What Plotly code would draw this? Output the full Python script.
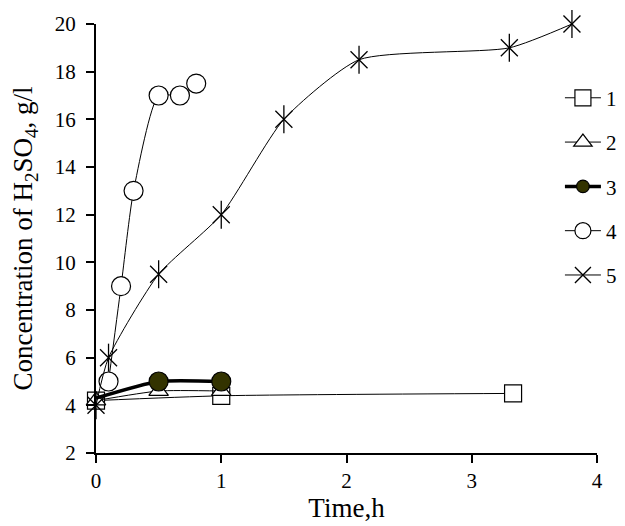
import plotly.graph_objects as go

# Data
s1_x = [0, 1, 3.33]
s1_y = [4.2, 4.4, 4.5]
s2_x = [0, 0.5, 1]
s2_y = [4.2, 4.6, 4.6]
s3_x = [0, 0.5, 1]
s3_y = [4.3, 5.0, 5.0]
s4_x = [0.1, 0.2, 0.3, 0.5, 0.67, 0.8]
s4_y = [5.0, 9.0, 13.0, 17.0, 17.0, 17.5]
s5_x = [0, 0.1, 0.5, 1.0, 1.5, 2.1, 3.3, 3.8]
s5_y = [4.0, 6.0, 9.5, 12.0, 16.0, 18.5, 19.0, 20.0]
names = ["1", "2", "3", "4", "5"]
x_ticks = [0, 1, 2, 3, 4]
y_ticks = [2, 4, 6, 8, 10, 12, 14, 16, 18, 20]

FONT = "Liberation Serif, Times New Roman, serif"
fig = go.Figure()

def add(x, y, name, symbol, size, lw, fill="white", mlw=1.2, legend=True):
    fig.add_trace(go.Scatter(
        x=x, y=y, name=name, mode="lines+markers",
        line=dict(color="black", width=lw, shape="spline", smoothing=0.6),
        marker=dict(symbol=symbol, size=size, color=fill, opacity=1,
                    line=dict(color="black", width=mlw)),
        legendgroup=name, showlegend=legend, cliponaxis=False))

add(s1_x, s1_y, names[0], "square", 17, 1)
add(s2_x, s2_y, names[1], "triangle-up", 17, 1)
# first point of series 3 is hidden under the other markers in the reference
add(s3_x, s3_y, names[2], "circle", [0] + [19] * (len(s3_x) - 1), 3.5, fill="#333300")
add(s4_x, s4_y, names[3], "circle", 19, 1)
add(s5_x, s5_y, names[4], "x-thin-open", 17, 1, fill="black", mlw=1.3)
# vertical stroke of the asterisk marker
fig.add_trace(go.Scatter(x=s5_x, y=s5_y, mode="markers", showlegend=False,
                         marker=dict(symbol="line-ns-open", size=20, color="black",
                                     line=dict(color="black", width=1.3)),
                         cliponaxis=False, hoverinfo="skip"))

fig.update_layout(
    width=625, height=526,
    margin=dict(l=88, r=36, t=16, b=81, autoexpand=False),
    paper_bgcolor="white", plot_bgcolor="white",
    font=dict(family=FONT, size=21, color="black"),
    showlegend=True,
    legend=dict(x=0.926, y=0.875, xanchor="left", yanchor="top",
                bgcolor="rgba(0,0,0,0)", tracegroupgap=14,
                font=dict(family=FONT, size=21), itemwidth=36,
                itemsizing="trace"),
    xaxis=dict(range=[0, 4], tickvals=x_ticks, showgrid=False, zeroline=False,
               showline=True, linecolor="black", linewidth=2, automargin=False,
               ticks="outside", ticklen=8, tickwidth=2, tickcolor="black",
               tickfont=dict(size=21),
               title=dict(text="Time,h", font=dict(size=27), standoff=6)),
    yaxis=dict(range=[2, 20], tickvals=y_ticks, showgrid=False, zeroline=False,
               showline=True, linecolor="black", linewidth=2, automargin=False,
               ticks="outside", ticklen=8, tickwidth=2, tickcolor="black",
               tickfont=dict(size=21), ticklabelstandoff=6,
               title=dict(text="Concentration of H<sub>2</sub>SO<sub>4</sub>, g/l",
                          font=dict(size=27), standoff=18)),
)

fig.write_html("out.html")
